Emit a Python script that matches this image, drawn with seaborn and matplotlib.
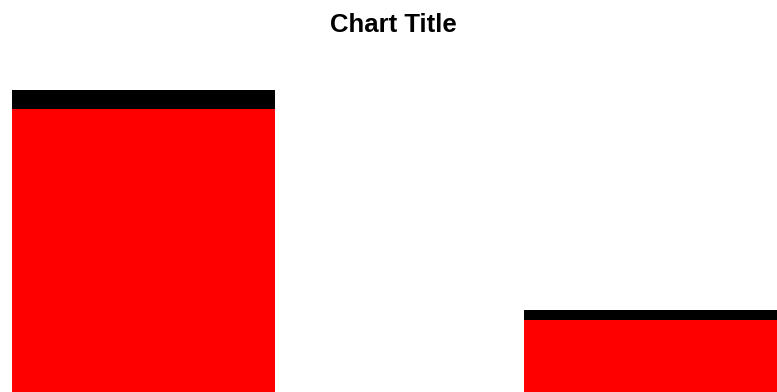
import matplotlib
matplotlib.use("Agg")
import matplotlib.pyplot as plt
import seaborn as sns
import pandas as pd

# Stacked bars: red base segment with a black cap on top
categories = ["A", "B"]
red_values = [14.9, 3.8]
black_values = [1.0, 0.5]
title = "Chart Title"

totals = [r + b for r, b in zip(red_values, black_values)]
df = pd.DataFrame({"category": categories, "red": red_values, "total": totals})

sns.set_theme(style="white")
plt.rcParams["font.family"] = ["Liberation Sans", "DejaVu Sans"]

fig = plt.figure(figsize=(7.77, 3.92), dpi=100)
ax = fig.add_axes([0, 0, 1, 1])

bar_width = 0.514
sns.barplot(data=df, x="category", y="total", color="#000000", saturation=1,
            width=bar_width, linewidth=0, ax=ax, errorbar=None)
sns.barplot(data=df, x="category", y="red", color="#FF0000", saturation=1,
            width=bar_width, linewidth=0, ax=ax, errorbar=None)

ax.set_xlim(-0.2803, 1.2373)
ax.set_ylim(0, 392 / 19)
ax.axis("off")

fig.text(393 / 777, 360 / 392, title, ha="center", va="baseline",
         fontsize=18.5, fontweight="bold", color="#000000")

fig.savefig("out.png", dpi=100, facecolor="white")
